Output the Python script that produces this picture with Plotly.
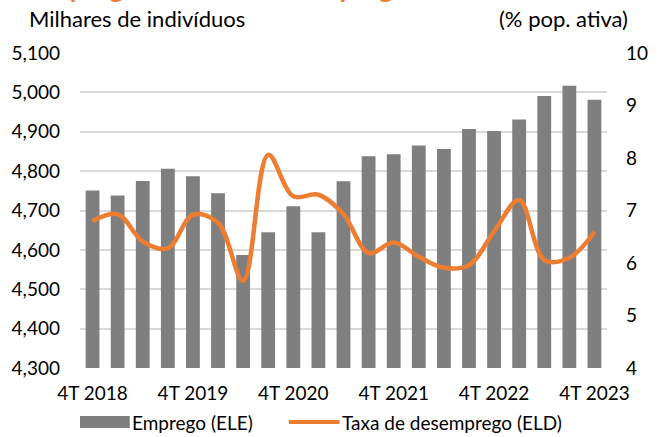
import plotly.graph_objects as go

trimestres = ["4T 2018", "1T 2019", "2T 2019", "3T 2019", "4T 2019",
              "1T 2020", "2T 2020", "3T 2020", "4T 2020",
              "1T 2021", "2T 2021", "3T 2021", "4T 2021",
              "1T 2022", "2T 2022", "3T 2022", "4T 2022",
              "1T 2023", "2T 2023", "3T 2023", "4T 2023"]
emprego_ele = [4751, 4738, 4775, 4806, 4787, 4744, 4587, 4645, 4711, 4645, 4774,
               4838, 4843, 4865, 4856, 4907, 4902, 4931, 4991, 5017, 4981]
taxa_desemprego_eld = [6.80, 6.93, 6.41, 6.28, 6.92, 6.77, 5.66, 8.06, 7.27, 7.30, 6.93,
                       6.19, 6.39, 6.12, 5.91, 5.96, 6.60, 7.20, 6.06, 6.10, 6.59]
x_ticks = ["4T 2018", "4T 2019", "4T 2020", "4T 2021", "4T 2022", "4T 2023"]
left_ticks = [4300, 4400, 4500, 4600, 4700, 4800, 4900, 5000, 5100]
right_ticks = [4, 5, 6, 7, 8, 9, 10]

GREY = "#7f7f7f"
ORANGE = "#ED7D31"
FONT = "Lato"
W, H = 660, 437
L, R, T, B = 75, 45, 53, 69

def px_x(p):
    return (p - L) / (W - L - R)

def px_y(p):
    return (H - B - p) / (H - T - B)

fig = go.Figure()
fig.add_trace(go.Bar(x=trimestres, y=emprego_ele, name="Emprego (ELE)",
                     marker=dict(color=GREY, line=dict(width=0)), showlegend=False))
fig.add_trace(go.Scatter(x=trimestres, y=taxa_desemprego_eld, name="Taxa de desemprego (ELD)",
                         yaxis="y2", mode="lines",
                         line=dict(color=ORANGE, width=4.5, shape="spline", smoothing=1.0),
                         showlegend=False))

fig.update_layout(
    width=W, height=H,
    margin=dict(l=L, r=R, t=T, b=B),
    paper_bgcolor="white", plot_bgcolor="white",
    font=dict(family=FONT, color="#000000", size=19),
    bargap=0.45,
    xaxis=dict(type="category", tickvals=x_ticks, ticktext=x_ticks, showgrid=False,
               ticks="", showline=False, zeroline=False, ticklabelstandoff=12,
               tickfont=dict(size=19, family=FONT)),
    yaxis=dict(range=[4300, 5100], tickvals=left_ticks, tickformat=",d",
               showgrid=True, gridcolor="#d9d9d9", gridwidth=1.5, zeroline=False,
               showline=False, ticks="", ticklabelstandoff=19,
               tickfont=dict(size=19, family=FONT)),
    yaxis2=dict(range=[4, 10], tickvals=right_ticks, overlaying="y", side="right",
                showgrid=False, zeroline=False, showline=False, ticks="",
                ticklabelstandoff=18, tickfont=dict(size=19, family=FONT)),
)

annotations = [
    dict(text="<b>Emprego e taxa de desemprego</b>", xref="paper", yref="paper",
         x=px_x(24), y=px_y(5.5), xanchor="left", yanchor="bottom", showarrow=False,
         font=dict(size=27, color=ORANGE, family=FONT)),
    dict(text="Milhares de indivíduos", xref="paper", yref="paper",
         x=px_x(21), y=px_y(19), xanchor="left", yanchor="middle", showarrow=False,
         font=dict(size=22, family=FONT)),
    dict(text="(% pop. ativa)", xref="paper", yref="paper",
         x=px_x(639), y=px_y(19), xanchor="right", yanchor="middle", showarrow=False,
         font=dict(size=22, family=FONT)),
    dict(text="Emprego (ELE)", xref="paper", yref="paper",
         x=px_x(126), y=px_y(422), xanchor="left", yanchor="middle", showarrow=False,
         font=dict(size=19, family=FONT)),
    dict(text="Taxa de desemprego (ELD)", xref="paper", yref="paper",
         x=px_x(341), y=px_y(422), xanchor="left", yanchor="middle", showarrow=False,
         font=dict(size=19, family=FONT)),
]
shapes = [
    dict(type="rect", xref="paper", yref="paper", x0=px_x(75), x1=px_x(126),
         y0=px_y(416), y1=px_y(428), fillcolor=GREY, line=dict(width=0)),
    dict(type="line", xref="paper", yref="paper", x0=px_x(289), x1=px_x(341),
         y0=px_y(422), y1=px_y(422), line=dict(color=ORANGE, width=4)),
]
fig.update_layout(annotations=annotations, shapes=shapes)

fig.write_html("out.html", config={"displayModeBar": False},
               post_script="document.body.style.margin='0px';document.body.style.overflow='hidden';")
